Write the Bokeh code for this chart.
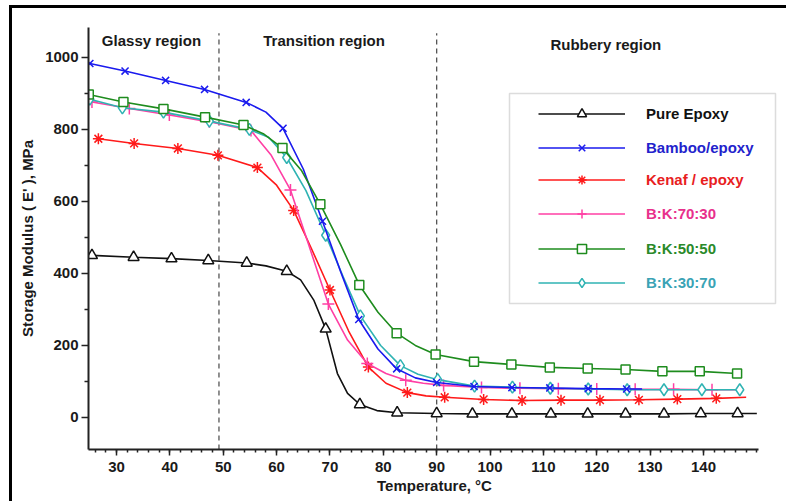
from bokeh.plotting import figure
from bokeh.models import (Legend, LegendItem, BoxAnnotation, Label, Range1d, FixedTicker, Div)
from bokeh.layouts import column, row
from bokeh.embed import file_html
from bokeh.resources import INLINE

# ---------------- data ----------------
# Pure Epoxy
pe_x = [25.4, 33.2, 40.3, 47.2, 54.4, 61.9, 69.2, 75.6, 82.6, 90.0, 96.7, 104.1, 111.4, 118.3, 125.4, 132.6, 139.5, 146.4]
pe_y = [450, 445, 441, 436, 429, 406, 246, 36, 13, 11, 10, 10, 10, 10, 10, 10, 11, 11]
pe_cx = [58, 64.5, 67.0, 71.4, 73.3, 78.8, 150]
pe_cy = [421, 382, 325, 122, 67, 19, 11]
# Bamboo/epoxy
ba_x = [25.0, 31.6, 39.2, 46.5, 54.3, 61.2, 68.6, 75.4, 82.5, 90.0, 97.0, 104.1, 111.2, 118.4, 125.6]
ba_y = [983, 962, 936, 911, 875, 803, 545, 272, 135, 97, 86, 83, 82, 80, 79]
ba_cx = [58, 65, 72, 79, 86, 128.5]
ba_cy = [848, 690, 405, 190, 110, 79]
# Kenaf / epoxy
ke_x = [26.6, 33.3, 41.5, 49.0, 56.4, 63.2, 70.0, 77.2, 84.5, 91.5, 98.8, 106.0, 113.3, 120.6, 127.9, 135.1, 142.4]
ke_y = [774, 761, 747, 728, 694, 575, 354, 140, 69, 56, 50, 47, 48, 48, 49, 51, 53]
ke_cx = [60, 66.5, 73.5, 80.5, 88, 148]
ke_cy = [645, 470, 240, 95, 60, 56]
# B:K:70:30
k73_x = [25.4, 32.4, 39.9, 47.4, 55.2, 62.6, 69.7, 77.0, 84.2, 91.3, 98.4, 105.6, 112.8, 120.0, 127.2, 134.4, 141.6]
k73_y = [876, 858, 840, 821, 797, 632, 315, 150, 103, 89, 83, 81, 80, 79, 78, 78, 77]
k73_cx = [59, 66, 73.3, 80.5, 87.5, 147]
k73_cy = [728, 480, 215, 122, 95, 77]
# B:K:50:50
k55_x = [24.8, 31.3, 38.8, 46.6, 53.8, 61.1, 68.2, 75.5, 82.5, 89.8, 97.0, 104.0, 111.2, 118.3, 125.4, 132.3, 139.3, 146.3]
k55_y = [897, 876, 857, 834, 812, 748, 592, 368, 234, 175, 155, 147, 139, 136, 133, 128, 128, 122]
k55_cx = [57.5, 64.7, 72, 79, 86]
k55_cy = [788, 685, 480, 292, 200]
# B:K:30:70
k37_x = [25.0, 31.1, 38.8, 47.4, 54.9, 61.9, 69.2, 75.7, 83.2, 90.2, 97.1, 104.2, 111.3, 118.4, 125.7, 132.6, 139.7, 146.8]
k37_y = [884, 860, 848, 823, 800, 722, 506, 282, 144, 105, 87, 84, 81, 79, 77, 77, 77, 77]
k37_cx = [58.5, 65.5, 72.5, 79.5, 86.5]
k37_cy = [778, 630, 390, 200, 120]

series_names = ["Pure Epoxy", "Bamboo/epoxy", "Kenaf / epoxy", "B:K:70:30", "B:K:50:50", "B:K:30:70"]
x_ticks = [30, 40, 50, 60, 70, 80, 90, 100, 110, 120, 130, 140]
y_ticks = [0, 200, 400, 600, 800, 1000]
region_bounds = [49.2, 90.0]
region_names = ["Glassy region", "Transition region", "Rubbery region"]
region_label_x = [36.55, 68.9, 121.7]
region_label_y = [1047, 1047, 1036]

# ---------------- styling ----------------
colors = ["#111111", "#1a1aee", "#ff1a1a", "#ff3fa4", "#1e8c1e", "#2fb3b3"]
label_colors = ["#111111", "#2222cc", "#e8201e", "#e8308c", "#2a8a2a", "#3aa3b5"]
markers = ["triangle", "x", "asterisk", "cross", "square", "diamond"]
msizes = [11, 10, 11, 12, 9, 12]
FONT = "Liberation Sans"

W, H = 786, 501            # page
OX, OY = 12, 8             # canvas origin on the page (inside the black rules)
CW, CH = W - OX, H - OY    # canvas size
FL, FT, FB, FR = 88, 27, 449, 780        # frame edges, page coordinates
PX_PER_DEG = 5.336
X0 = 24.75
X_AXIS_END = 150.3
x_end = X0 + (FR - FL) / PX_PER_DEG

p = figure(width=CW, height=CH, output_backend="svg", toolbar_location=None,
           x_range=Range1d(X0, x_end), y_range=Range1d(-89, 1083),
           min_border_left=FL - OX, min_border_right=W - FR, min_border_top=FT - OY,
           min_border_bottom=H - FB,
           background_fill_color="white", border_fill_color="white")
p.outline_line_color = None
p.xgrid.visible = False
p.ygrid.visible = False

p.xaxis.ticker = FixedTicker(ticks=x_ticks, minor_ticks=list(range(26, 151, 2)))
p.xaxis.bounds = (X0, X_AXIS_END)
p.yaxis.ticker = FixedTicker(ticks=y_ticks, minor_ticks=[100, 300, 500, 700, 900])
for ax in (p.xaxis, p.yaxis):
    ax.axis_line_width = 2
    ax.axis_line_color = "#222222"
    ax.major_tick_line_width = 1.5
    ax.minor_tick_line_width = 1.5
    ax.major_tick_line_color = "#222222"
    ax.minor_tick_line_color = "#222222"
    ax.major_tick_in = 0
    ax.minor_tick_in = 0
    ax.major_label_text_font = FONT
    ax.major_label_text_font_style = "bold"
    ax.major_label_text_font_size = "15px"
    ax.major_label_text_color = "#1a1a1a"
    ax.axis_label_text_font = FONT
    ax.axis_label_text_font_style = "bold"
    ax.axis_label_text_font_size = "15px"
    ax.axis_label_text_color = "#1a1a1a"
p.xaxis.major_tick_out = 6
p.xaxis.minor_tick_out = 3
p.yaxis.major_tick_out = 7
p.yaxis.minor_tick_out = 4
p.xaxis.major_label_standoff = 6
p.yaxis.major_label_standoff = 3
p.xaxis.axis_label = "Temperature, °C"
p.yaxis.axis_label = "Storage Modulus ( E' ), MPa"
p.xaxis.axis_label_standoff = 2
p.yaxis.axis_label_standoff = 6

# region boundaries
p.segment(x0=region_bounds, y0=[-89] * len(region_bounds), x1=region_bounds,
          y1=[1067] * len(region_bounds), line_color="#555555", line_width=1.3, line_dash="5 4")

for name, lx, ly in zip(region_names, region_label_x, region_label_y):
    p.add_layout(Label(x=lx, y=ly, text=name, text_align="center", text_baseline="middle",
                       text_font=FONT, text_font_style="bold", text_font_size="15px",
                       text_color="#1a1a1a"))

all_series = [
    (pe_x, pe_y, pe_cx, pe_cy),
    (ba_x, ba_y, ba_cx, ba_cy),
    (ke_x, ke_y, ke_cx, ke_cy),
    (k73_x, k73_y, k73_cx, k73_cy),
    (k55_x, k55_y, k55_cx, k55_cy),
    (k37_x, k37_y, k37_cx, k37_cy),
]

draw_order = [0, 2, 3, 5, 1, 4]
renderers = {}
for i in draw_order:
    mx, my, cx, cy = all_series[i]
    pts = sorted(zip(list(mx) + list(cx), list(my) + list(cy)))
    lr = p.line([a for a, _ in pts], [b for _, b in pts], line_color=colors[i], line_width=1.6)
    fill = "white" if markers[i] in ("triangle", "square", "diamond") else None
    sr = p.scatter(mx, my, marker=markers[i], size=msizes[i], line_color=colors[i],
                   fill_color=fill, line_width=1.5)
    renderers[i] = (lr, sr)

# legend box
p.add_layout(BoxAnnotation(left=509 - OX, right=775 - OX, top=93 - OY, bottom=303 - OY,
                           left_units="canvas", right_units="canvas",
                           top_units="canvas", bottom_units="canvas",
                           fill_alpha=0, line_color="#8a8a8a", line_width=1.5))

GH = 23
row_centers = [113, 147, 179, 213, 248, 282]
for i, name in enumerate(series_names):
    lg = Legend(items=[LegendItem(label=name, renderers=list(renderers[i]))],
                location=(538 - FL, FB - (row_centers[i] + GH / 2)),
                glyph_width=87, glyph_height=GH, label_height=16, label_standoff=21,
                padding=0, margin=0, spacing=0, border_line_color=None,
                background_fill_alpha=0,
                label_text_font=FONT, label_text_font_style="bold",
                label_text_font_size="15px", label_text_color=label_colors[i])
    p.add_layout(lg)

# black rules along the top and left edge of the picture
BLACK = {"background-color": "black"}
top_gap = Div(text="", width=W, height=5, margin=0)
top_rule = row(Div(text="", width=9, height=3, margin=0),
               Div(text="", width=W - 9, height=3, margin=0, styles=BLACK), spacing=0)
body = row(Div(text="", width=9, height=CH, margin=0),
           Div(text="", width=3, height=CH, margin=0, styles=BLACK),
           p, spacing=0)
page = column(top_gap, top_rule, body, spacing=0)

open("out.html", "w").write(file_html(page, INLINE))
